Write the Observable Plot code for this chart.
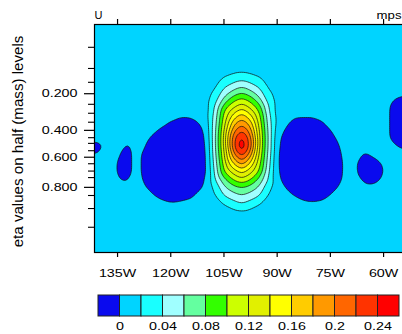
<!DOCTYPE html>
<html><head><meta charset="utf-8">
<script src="https://cdn.jsdelivr.net/npm/d3@7"></script>
<script src="https://cdn.jsdelivr.net/npm/@observablehq/plot@0.6"></script>
<style>
html,body{margin:0;padding:0;background:#fff;overflow:hidden;width:402px;height:334px}
#chart{width:420px}
#chart svg{display:block}
</style></head><body><div id="chart"></div>
<script>
// grid longitudes (degrees east) and model-level rows (top to bottom)
const lons = [-142.5,-140,-137.5,-135,-132.5,-130,-127.5,-125,-122.5,-120,-117.5,-115,-112.5,-110,-107.5,-105,-102.5,-100,-97.5,-95,-92.5,-90,-87.5,-85,-82.5,-80,-77.5,-75,-72.5,-70,-67.5,-65,-62.5,-60,-57.5,-55,-52.5];
const levels = [24,23,22,21,20,19,18,17,16,15,14,13,12,11,10,9,8,7,6,5,4];
// U in hundredths of m/s
const uGrid = [
[1.2,1.2,1.2,1.2,1.2,1.2,1.2,1.2,1.2,1.2, 1.2,1.2,1.2,1.2,1.2,1.2,1.2,1.2,1.2,1.2, 1.2,1.2,1.2,1.2,1.2,1.2,1.2,1.2,1.2,1.2, 1.2,1.2,1.2,1.2,1.2,1.2,1.2],
[1.2,1.2,1.2,1.2,1.2,1.2,1.2,1.2,1.2,1.2, 1.2,1.2,1.2,1.2,1.2,1.2,1.2,1.3,1.2,1.2, 1.2,1.2,1.2,1.2,1.2,1.2,1.2,1.2,1.2,1.2, 1.2,1.2,1.2,1.2,1.2,1.2,1.2],
[1.2,1.2,1.2,1.2,1.2,1.2,1.2,1.2,1.2,1.2, 1.2,1.2,1.2,1.2,1.2,1.5,1.8,2.0,1.8,1.5, 1.2,1.2,1.2,1.2,1.2,1.2,1.2,1.2,1.2,1.2, 1.2,1.2,1.2,1.2,1.2,1.2,1.2],
[1.2,1.2,1.2,1.2,1.2,1.2,1.2,1.2,1.2,1.2, 1.2,1.2,1.2,1.2,1.4,2.7,3.6,4.3,3.6,2.7, 1.4,1.2,1.2,1.2,1.2,1.2,1.2,1.2,1.2,1.2, 1.2,1.2,1.2,1.2,1.2,1.2,1.2],
[1.2,1.2,1.2,1.2,1.2,1.2,1.2,1.2,1.2,1.2, 1.2,1.2,1.2,1.2,1.9,4.4,5.7,6.9,5.7,4.4, 1.9,1.2,1.2,1.2,1.2,1.2,1.2,1.2,1.2,1.2, 1.2,1.2,1.2,1.2,0.85,0.85,0.8],
[1.2,1.2,1.2,1.2,1.2,1.2,1.2,1.2,1.2,1.2, 1.2,1.2,1.2,1.2,2.9,6.1,8.6,9.9,8.6,6.1, 2.9,1.2,1.2,1.2,1.2,1.2,1.2,1.2,1.2,1.2, 1.2,1.2,1.2,1.0,0.18,-0.15,-0.2],
[1.2,1.2,1.2,1.2,1.2,1.2,1.2,1.2,1.2,1.2, 1.2,1.2,1.2,1.2,4.0,8.7,11.2,13.0,11.2,8.7, 4.0,1.2,1.2,1.2,1.2,1.2,1.2,1.2,1.2,1.2, 1.2,1.2,1.2,0.75,-0.3,-1.3,-2.0],
[1.2,1.2,1.2,1.2,1.2,1.2,1.2,1.2,1.2,1.0, 0.4,0.4,0.7,1.2,4.6,10.5,14.0,16.5,14.0,10.5, 4.6,1.2,0.95,0.4,0.4,0.4,0.8,1.2,1.2,1.2, 1.2,1.2,1.2,0.75,-0.35,-1.3,-2.0],
[1.2,1.2,1.2,1.2,1.2,1.2,1.2,1.2,0.7,-0.1, -0.55,-0.55,-0.03,0.8,5.1,11.2,16.9,19.2,16.9,11.2, 5.1,1.3,0.35,-0.5,-0.55,-0.55,-0.15,0.8,1.2,1.2, 1.2,1.2,1.2,0.75,-0.35,-1.3,-2.0],
[1.2,1.2,1.2,1.2,1.2,1.2,1.0,0.4,-0.45,-1.1, -1.5,-1.4,-0.65,0.36,5.5,11.9,19.0,22.0,19.0,11.9, 5.5,0.8,-0.2,-1.0,-1.5,-1.5,-1.0,-0.1,0.95,1.2, 1.2,1.2,1.2,0.75,-0.35,-1.3,-2.0],
[0.4,0.7,1.2,1.2,0.4,0.6,0.5,-0.35,-1.2,-2.2, -2.5,-2.0,-1.0,0.08,5.7,12.3,21.0,25.1,21.0,12.3, 5.7,0.4,-0.6,-1.5,-2.4,-2.4,-1.4,-0.55,0.36,1.2, 1.2,1.2,1.2,0.75,-0.3,-1.3,-2.0],
[-1.5,-0.5,1.0,0.85,-0.3,0.6,0.15,-0.9,-1.9,-2.5, -2.5,-2.5,-1.2,-0.15,5.7,12.2,21.3,26.0,21.3,12.2, 5.7,0.24,-0.85,-1.9,-2.5,-2.5,-2.2,-1.1,-0.04,1.0, 0.6,0.5,1.0,1.2,0.45,-0.24,-0.3],
[-0.3,0.5,1.0,0.25,-0.8,0.6,-0.3,-1.2,-2.3,-2.5, -2.5,-2.5,-1.3,-0.28,5.4,11.6,19.0,23.1,19.0,11.6, 5.4,0.1,-1.0,-2.0,-2.5,-2.5,-2.5,-1.35,-0.28,0.8, 0.36,-0.2,0.4,1.1,0.95,0.75,0.75],
[0.7,0.85,1.0,-0.1,-0.8,0.6,-0.3,-1.4,-2.4,-2.5, -2.5,-2.5,-1.3,-0.28,5.0,10.8,16.0,19.3,16.0,10.8, 5.0,0.05,-1.0,-2.1,-2.5,-2.5,-2.5,-1.45,-0.4,0.65, 0.1,-1.0,-0.6,0.3,1.2,1.2,1.2],
[1.2,1.2,1.0,-0.15,-0.8,0.6,-0.3,-1.4,-2.4,-2.5, -2.5,-2.5,-1.3,-0.28,4.5,10.0,12.9,15.2,12.9,10.0, 4.5,0.17,-0.9,-1.95,-2.5,-2.5,-2.5,-1.45,-0.4,0.65, 0.1,-1.1,-1.2,0.05,1.0,1.2,1.2],
[1.2,1.2,1.0,0.1,-0.3,0.85,-0.2,-1.25,-2.3,-2.5, -2.5,-1.8,-0.95,0.1,3.9,7.5,10.2,11.7,10.2,7.5, 3.9,0.37,-0.6,-1.7,-2.5,-2.5,-2.4,-1.3,-0.3,0.7, 0.45,-0.55,-0.6,0.3,1.2,1.2,1.2],
[1.2,1.2,1.2,0.8,0.4,1.1,0.18,-0.6,-1.5,-1.8, -1.6,-0.9,-0.5,0.4,2.4,5.7,7.2,8.0,7.2,5.7, 2.4,0.9,-0.12,-0.85,-1.5,-1.7,-1.5,-0.8,0.18,1.1, 0.9,0.36,0.45,1.0,1.2,1.2,1.2],
[1.2,1.2,1.2,1.2,1.2,1.2,1.0,0.1,-0.6,-0.85, -0.7,-0.55,0.25,1.1,1.7,4.1,5.2,6.0,5.2,4.1, 1.7,1.2,0.6,-0.12,-0.6,-0.75,-0.55,0.1,0.95,1.2, 1.2,1.0,1.0,1.2,1.2,1.2,1.2],
[1.2,1.2,1.2,1.2,1.2,1.2,1.2,1.0,0.5,0.13, 0.25,0.6,1.0,1.2,1.2,2.0,3.1,4.0,3.1,2.0, 1.2,1.2,1.2,0.9,0.35,0.2,0.35,0.8,1.2,1.2, 1.2,1.2,1.2,1.2,1.2,1.2,1.2],
[1.2,1.2,1.2,1.2,1.2,1.2,1.2,1.2,1.2,1.1, 1.1,1.2,1.2,1.2,1.2,1.3,1.4,1.6,1.4,1.3, 1.2,1.2,1.2,1.2,1.1,1.1,1.1,1.2,1.2,1.2, 1.2,1.2,1.2,1.2,1.2,1.2,1.2],
[1.2,1.2,1.2,1.2,1.2,1.2,1.2,1.2,1.2,1.2, 1.2,1.2,1.2,1.2,1.2,1.2,1.2,1.2,1.2,1.2, 1.2,1.2,1.2,1.2,1.2,1.2,1.2,1.2,1.2,1.2, 1.2,1.2,1.2,1.2,1.2,1.2,1.2]
];
const colorBounds = [0,0.02,0.04,0.06,0.08,0.1,0.12,0.14,0.16,0.18,0.2,0.22,0.24];
const colors = ["#0a0aee","#00d4ff","#19ffff","#a0ffff","#64ffa0","#33ff00","#ccff00","#e1f000","#ffff00","#ffcc00","#ff9900","#ff6600","#ff3300","#ff0000"];
const xTickLons = [-135,-120,-105,-90,-75,-60];
const xTickLabels = ["135W","120W","105W","90W","75W","60W"];
const yMajorLevels = [19.5,15.0,11.7,8.0];
const yMajorLabels = ["0.200","0.400","0.600","0.800"];
const yMinorLevels = [25.2,22.6,20.9,18.2,17.1,16.0,14.1,13.4,12.5,10.9,10.0,9.2,7.0,5.4,3.1];
const legendTicks = [0,0.04,0.08,0.12,0.16,0.2,0.24];
const legendLabels = ["0","0.04","0.08","0.12","0.16","0.2","0.24"];
const yTitle = "eta values on half (mass) levels";

const table = [];
levels.forEach((lev, r) => lons.forEach((lon, c) => table.push({lon, lev, u: uGrid[r][c] / 100})));

const font = "'Liberation Sans', Arial, Helvetica, sans-serif";
const main = Plot.plot({
  width: 410, height: 282,
  marginLeft: 94, marginRight: 6, marginTop: 24, marginBottom: 30,
  style: {fontFamily: font, fontSize: "11px", color: "#000", background: "transparent", overflow: "visible", maxWidth: "none"},
  x: {domain: [-141.5, -54.1]},
  y: {domain: [0, 28]},
  color: {type: "threshold", domain: colorBounds, range: colors},
  marks: [
    Plot.frame({fill: colors[1]}),
    Plot.contour(table, {x: "lon", y: "lev", fill: "u", thresholds: [-0.03, ...colorBounds], interpolate: "barycentric", blur: 1}),
    Plot.contour(table, {x: "lon", y: "lev", value: "u", thresholds: colorBounds, interpolate: "barycentric", blur: 1, fill: "none", stroke: "#111", strokeWidth: 0.8, strokeOpacity: 0.9}),
    Plot.frame({stroke: "#000", strokeWidth: 1.2}),
    Plot.axisX(xTickLons, {anchor: "bottom", tickSize: 5, tickPadding: 12, strokeWidth: 1.2, tickFormat: d => xTickLabels[xTickLons.indexOf(d)], label: null}),
    Plot.axisX(xTickLons, {anchor: "top", tickSize: 6, strokeWidth: 1.2, tickFormat: () => "", label: null}),
    Plot.axisY(yMajorLevels, {anchor: "left", tickSize: 10, tickPadding: 7, strokeWidth: 1.2, tickFormat: d => yMajorLabels[yMajorLevels.indexOf(d)], label: null}),
    Plot.axisY(yMinorLevels, {anchor: "left", tickSize: 6, strokeWidth: 1.1, tickFormat: () => "", label: null}),
    Plot.text(["U"], {text: d => d, frameAnchor: "top-left", textAnchor: "start", lineAnchor: "bottom", dy: -6, fontSize: 11}),
    Plot.text(["mps"], {text: d => d, frameAnchor: "top-right", textAnchor: "end", lineAnchor: "bottom", dx: -3, dy: -6, fontSize: 11}),
    Plot.text([yTitle], {text: d => d, frameAnchor: "left", textAnchor: "middle", rotate: -90, dx: -76, dy: 3, fontSize: 14, lineAnchor: "middle"})
  ]
});
main.style.maxWidth = "none";

const edges = [-0.02, ...colorBounds, 0.26];
const legendBoxes = colors.map((c, i) => ({lo: edges[i], hi: edges[i + 1], color: c}));
const legend = Plot.plot({
  width: 402, height: 52,
  marginLeft: 98, marginRight: 3, marginTop: 13, marginBottom: 18,
  style: {fontFamily: font, fontSize: "11px", color: "#000", background: "transparent", overflow: "visible", maxWidth: "none"},
  x: {domain: [-0.02, 0.26], axis: null},
  color: {type: "identity"},
  marks: [
    Plot.rect(legendBoxes, {x1: "lo", x2: "hi", fill: "color", stroke: "#222", strokeWidth: 1}),
    Plot.text(legendTicks, {x: d => d, text: (d, i) => legendLabels[i], frameAnchor: "bottom", dy: 10, lineAnchor: "middle", fontSize: 11})
  ]
});
legend.style.maxWidth = "none";

const el = document.getElementById("chart");
el.appendChild(main);
el.appendChild(legend);

// horizontally widen the label glyphs as in the reference
function stretch(texts, s) {
  for (const t of texts) {
    const tr = t.getAttribute("transform") || "";
    const x = t.getAttribute("x");
    if (x !== null && x !== "" && !isNaN(+x)) t.setAttribute("x", +x / s);
    t.setAttribute("transform", `${tr} scale(${s},1)`.trim());
  }
}
const allMain = [...main.querySelectorAll("text")];
stretch([...main.querySelectorAll('g[aria-label="x-axis tick label"] text, g[aria-label="y-axis tick label"] text')], 1.3);
stretch(allMain.filter(t => t.textContent === "mps"), 1.2);
stretch(allMain.filter(t => t.textContent === yTitle), 1.08);
stretch(legend.querySelectorAll("text"), 1.3);
</script></body></html>
